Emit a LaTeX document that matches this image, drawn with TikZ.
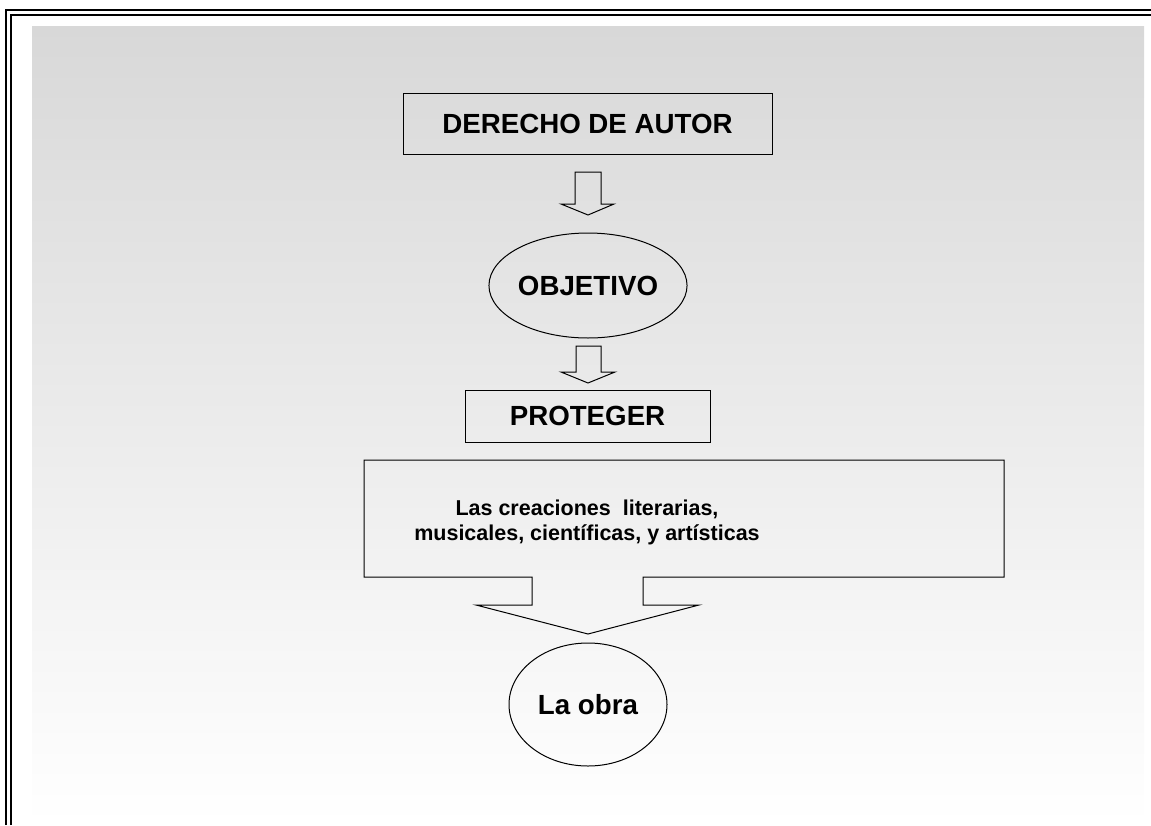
\documentclass[tikz,border=0pt]{standalone}
\usepackage{fontspec}
\setmainfont{Liberation Sans}
\usetikzlibrary{shapes.geometric}
\definecolor{panelgray}{RGB}{216,216,216}
\tikzset{
  shapeline/.style={draw=black, line width=1pt},
  bigtext/.style={font=\bfseries\fontsize{27.7}{33}\selectfont},
  boxnode/.style={shapeline, rectangle, inner sep=0pt, bigtext},
  ovalnode/.style={shapeline, ellipse, inner sep=0pt, bigtext},
  framepen/.style={draw=black, line width=2pt},
}
\begin{document}
\begin{tikzpicture}[x=1pt, y=-1pt]
\useasboundingbox (0,0) rectangle (1151,825);
% page frame (double line, top and left)
\draw[framepen] (6,825) -- (6,10) -- (1151,10);
\draw[framepen] (11,825) -- (11,15) -- (1151,15);
% gradient panel
\shade[top color=panelgray, bottom color=white] (32,26) rectangle (1144,825);

% nodes
\node[boxnode, minimum width=369pt, minimum height=61pt] (der) at (587.5,123.5) {DERECHO DE AUTOR};
\node[ovalnode, minimum width=168pt, minimum height=105pt] (obj) at (588,285.5) {OBJETIVO};
\node[boxnode, minimum width=245pt, minimum height=52pt] (pro) at (587.5,416) {PROTEGER};
\node[ovalnode, minimum width=158pt, minimum height=123pt] (obra) at (588,704.5) {La obra};

% block arrows
\coordinate (a1) at (588,172);
\draw[shapeline, line join=miter] (a1) ++(-13,0) -- ++(26,0) -- ++(0,32) -- ++(13,0) -- ++(-26,11) -- ++(-27,-11) -- ++(14,0) -- cycle;
\coordinate (a2) at (588,346);
\draw[shapeline, line join=miter] (a2) ++(-12,0) -- ++(25,0) -- ++(0,26) -- ++(14,0) -- ++(-27,11) -- ++(-27,-11) -- ++(15,0) -- cycle;

% callout box with downward arrow
\draw[shapeline, line join=miter] (364,460) -- (1004,460) -- (1004,577) -- (643,577) -- (643,605) -- (699,605) -- (588,634) -- (476,605) -- (532,605) -- (532,577) -- (364,577) -- cycle;
\node[align=center, inner sep=0pt, font=\bfseries\fontsize{21.5}{25}\selectfont] (cre) at (587,522)
  {Las creaciones\ \ literarias,\\ musicales, científicas, y artísticas};
\end{tikzpicture}
\end{document}
